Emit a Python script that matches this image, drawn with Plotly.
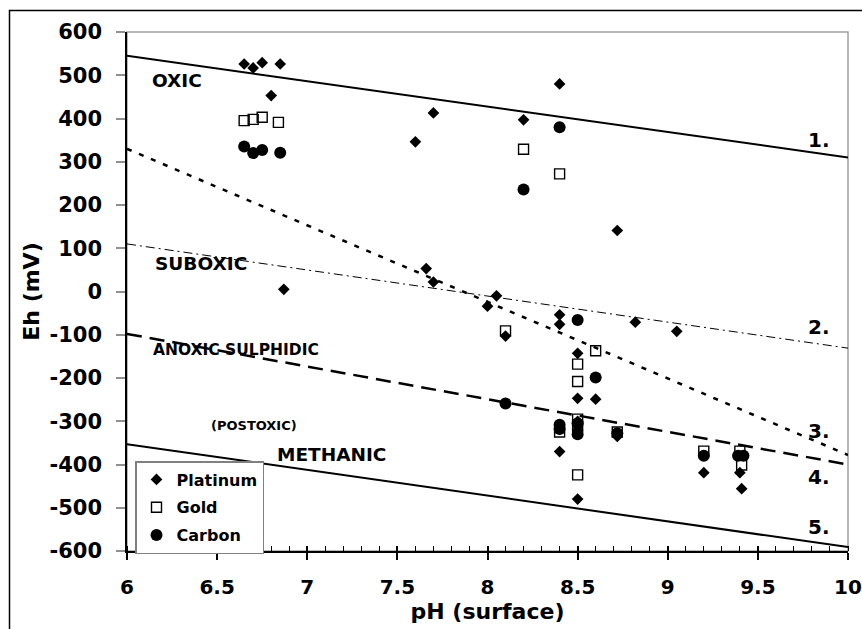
import plotly.graph_objects as go

# ---------------- data ----------------
pt_ph = [6.65, 6.70, 6.75, 6.85, 6.80, 6.87, 7.60, 7.70, 7.66, 7.70, 8.00, 8.05, 8.10, 8.20,
         8.40, 8.40, 8.40, 8.40, 8.40, 8.50, 8.50, 8.50, 8.50, 8.50, 8.60, 8.72, 8.72, 8.82,
         9.05, 9.20, 9.40, 9.41]
pt_eh = [526, 517, 529, 526, 453, 5, 346, 413, 53, 22, -34, -10, -103, 397,
         480, -54, -76, -318, -370, -143, -247, -300, -320, -480, -249, 141, -335, -71,
         -92, -419, -419, -456]

au_ph = [6.65, 6.70, 6.75, 6.84, 8.20, 8.40, 8.10, 8.40, 8.50, 8.50, 8.50, 8.50, 8.50,
         8.60, 8.72, 9.20, 9.40, 9.41]
au_eh = [395, 398, 403, 391, 329, 272, -91, -325, -168, -208, -295, -312, -424,
         -137, -325, -369, -369, -401]

c_ph = [6.65, 6.70, 6.75, 6.85, 8.20, 8.40, 8.50, 8.60, 8.10, 8.40, 8.40, 8.50, 8.50,
        8.72, 9.20, 9.39, 9.42]
c_eh = [335, 320, 327, 321, 236, 380, -66, -199, -259, -308, -318, -305, -330,
        -328, -380, -380, -380]

# boundary lines (Eh at pH 6 and pH 10)
line_ph = [6, 10]
line1 = [545, 310]
line2 = [110, -131]
line3 = [330, -378]
line4 = [-98, -400]
line5 = [-353, -591]

region_labels = ["OXIC", "SUBOXIC", "ANOXIC SULPHIDIC", "(POSTOXIC)", "METHANIC"]
line_labels = ["1.", "2.", "3.", "4.", "5."]
x_ticks = [6, 6.5, 7, 7.5, 8, 8.5, 9, 9.5, 10]
y_ticks = list(range(-600, 601, 100))
y_ticktext = [str(v) for v in y_ticks]  # ASCII hyphen minus as in the original

# ---------------- layout geometry ----------------
W, H = 862, 629
L, R, T, B = 127, 848, 32, 551
FONT = "DejaVu Sans"


def px_x(p):
    return (p - L) / (R - L)


def px_y(p):
    return (B - p) / (B - T)


fig = go.Figure()

# boundary lines
line_specs = [
    (line1, dict(color="black", width=2)),
    (line2, dict(color="black", width=1, dash="9px,4px,2px,4px")),
    (line3, dict(color="black", width=2.5, dash="5px,8px")),
    (line4, dict(color="black", width=2.5, dash="15px,8px")),
    (line5, dict(color="black", width=2)),
]
for vals, ls in line_specs:
    fig.add_trace(go.Scatter(x=line_ph, y=vals, mode="lines", line=ls,
                             showlegend=False, hoverinfo="skip"))

fig.add_trace(go.Scatter(x=pt_ph, y=pt_eh, mode="markers", name="Platinum",
                         marker=dict(symbol="diamond", size=9, color="black",
                                     line=dict(width=0)),
                         legendgroup="a"))
fig.add_trace(go.Scatter(x=au_ph, y=au_eh, mode="markers", name="Gold",
                         marker=dict(symbol="square", size=10, color="rgba(0,0,0,0)",
                                     line=dict(width=1.4, color="black")),
                         legendgroup="b"))
fig.add_trace(go.Scatter(x=c_ph, y=c_eh, mode="markers", name="Carbon",
                         marker=dict(symbol="circle", size=12, color="black",
                                     line=dict(width=0)),
                         legendgroup="c"))
# dummy trace so the overlay axis (inside major ticks) renders
fig.add_trace(go.Scatter(x=[None], y=[None], xaxis="x2", showlegend=False,
                         hoverinfo="skip"))

# region labels
reg_pos = [(6.28, 489, 18.5), (6.41, 64, 18.5), (6.605, -135, 15.5),
           (6.705, -309, 13), (7.137, -376, 18.5)]
for txt, (x, y, s) in zip(region_labels, reg_pos):
    fig.add_annotation(x=x, y=y, text=txt, showarrow=False,
                       font=dict(family=FONT, size=s, color="black", weight="bold"),
                       xanchor="center", yanchor="middle")

num_y = [350, -82, -322, -429, -544]
for txt, y in zip(line_labels, num_y):
    fig.add_annotation(x=9.911, y=y, text=txt, showarrow=False,
                       font=dict(family=FONT, size=20, color="black", weight="bold"),
                       xanchor="right", yanchor="middle")

# plot-area frame (grey) and outer border (black)
fig.add_shape(type="rect", xref="paper", yref="paper", x0=0, x1=1, y0=0, y1=1,
              line=dict(color="#a0a0a0", width=1.5), layer="below")
fig.add_shape(type="path", xref="paper", yref="paper",
              path=f"M {px_x(9.5)},{px_y(660)} L {px_x(9.5)},{px_y(10.5)} L {px_x(880)},{px_y(10.5)}",
              line=dict(color="black", width=1.5))

fig.update_layout(
    width=W, height=H,
    margin=dict(l=L, r=W - R, t=T, b=H - B, pad=0, autoexpand=False),
    paper_bgcolor="white", plot_bgcolor="white",
    showlegend=True,
    legend=dict(x=px_x(135), y=px_y(461), xanchor="left", yanchor="top",
                bgcolor="white", bordercolor="#808080", borderwidth=1.5,
                font=dict(family=FONT, size=16, color="black", weight="bold"),
                tracegroupgap=4, itemwidth=30),
    xaxis=dict(range=[6, 10], tickvals=x_ticks, ticktext=[f"{v:g}" for v in x_ticks],
               automargin=False,
               showgrid=False, zeroline=False,
               showline=True, linecolor="black", linewidth=1.5,
               ticks="outside", ticklen=7, tickwidth=1.5, tickcolor="black",
               minor=dict(dtick=0.1, ticks="inside", ticklen=5, tickwidth=1,
                          tickcolor="black", showgrid=False),
               tickfont=dict(family=FONT, size=20, color="black", weight="bold"),
               ticklabelstandoff=10,
               title=dict(text="pH (surface)", standoff=6,
                          font=dict(family=FONT, size=22, color="black", weight="bold"))),
    xaxis2=dict(range=[6, 10], overlaying="x", anchor="y", side="bottom",
                automargin=False,
                tickvals=x_ticks, showticklabels=False, showgrid=False, zeroline=False,
                showline=False, ticks="inside", ticklen=5, tickwidth=1.5,
                tickcolor="black"),
    yaxis=dict(range=[-600, 600], tickvals=y_ticks, ticktext=y_ticktext,
               automargin=False, showgrid=False, zeroline=False,
               showline=True, linecolor="black", linewidth=1.5,
               ticks="outside", ticklen=9, tickwidth=1.5, tickcolor="#909090",
               tickfont=dict(family=FONT, size=21, color="black", weight="bold"),
               ticklabelstandoff=10,
               title=dict(text="Eh (mV)", standoff=4,
                          font=dict(family=FONT, size=22, color="black", weight="bold"))),
)

fig.write_html("out.html")
